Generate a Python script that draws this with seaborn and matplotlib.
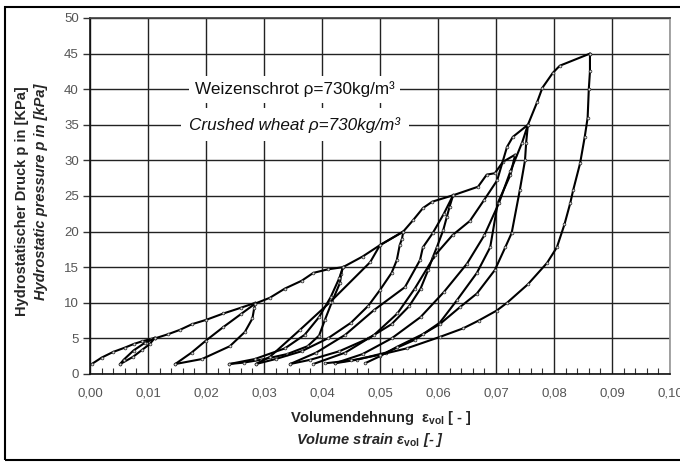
import numpy as np
import pandas as pd
import seaborn as sns
import matplotlib
matplotlib.use("Agg")
import matplotlib.pyplot as plt
from matplotlib.ticker import MultipleLocator, FuncFormatter
from matplotlib.patches import Rectangle

# ---------------- data (strain [-], pressure [kPa]) ----------------
s01_x = [0.0003, 0.002, 0.004, 0.006, 0.0075, 0.009, 0.0105, 0.0112]
s01_y = [1.4, 2.3, 3.1, 3.7, 4.2, 4.6, 4.9, 5.1]
s02_x = [0.0112, 0.0103, 0.009, 0.0074, 0.0052]
s02_y = [5.1, 4.2, 3.4, 2.4, 1.4]
s03_x = [0.0052, 0.0058, 0.0075, 0.0095, 0.0112, 0.0135, 0.0155, 0.0176, 0.020, 0.023, 0.026, 0.0285]
s03_y = [1.4, 2.0, 3.3, 4.4, 5.0, 5.6, 6.2, 7.0, 7.6, 8.5, 9.3, 10.0]
s04_x = [0.0285, 0.0283, 0.028, 0.0267, 0.0241, 0.0193, 0.0147]
s04_y = [10.0, 9.2, 7.8, 5.9, 3.9, 2.1, 1.4]
s05_x = [0.0147, 0.0175, 0.020, 0.023, 0.026, 0.0285, 0.031, 0.0336, 0.0365, 0.0385, 0.041, 0.0436]
s05_y = [1.4, 3.0, 4.7, 6.6, 8.4, 9.9, 10.7, 12.0, 13.1, 14.2, 14.7, 15.0]
s06_x = [0.0436, 0.0433, 0.0431, 0.0417, 0.0405, 0.0395, 0.0375, 0.034, 0.0295, 0.0265, 0.024]
s06_y = [15.0, 14.0, 12.8, 10.1, 7.6, 5.4, 3.9, 2.8, 2.0, 1.6, 1.4]
s07_x = [0.024, 0.0284, 0.0336, 0.037, 0.0395, 0.0415, 0.043, 0.0436, 0.047, 0.050, 0.054]
s07_y = [1.4, 2.1, 3.6, 5.5, 8.0, 10.8, 13.5, 15.0, 16.5, 18.1, 20.0]
s08_x = [0.054, 0.0538, 0.0534, 0.0529, 0.052, 0.050, 0.048, 0.045, 0.041, 0.0365, 0.032, 0.0286]
s08_y = [20.0, 19.0, 18.1, 16.0, 14.2, 11.8, 9.6, 7.2, 5.0, 3.2, 2.1, 1.4]
s09_x = [0.0286, 0.031, 0.0362, 0.0414, 0.0483, 0.050, 0.054, 0.0557, 0.0574, 0.059, 0.0626]
s09_y = [1.4, 2.4, 6.2, 10.1, 15.7, 18.1, 20.0, 21.6, 23.3, 24.2, 25.1]
s10_x = [0.0626, 0.062, 0.0615, 0.0609, 0.0598, 0.0591, 0.0583, 0.057, 0.055, 0.052, 0.048, 0.043, 0.038, 0.0345]
s10_y = [25.1, 23.5, 22.0, 20.2, 17.8, 16.4, 14.6, 12.0, 9.5, 7.0, 5.0, 3.2, 2.0, 1.4]
s11_x = [0.0345, 0.039, 0.044, 0.049, 0.0543, 0.0569, 0.0574, 0.0591, 0.061, 0.0626, 0.0669, 0.0684, 0.0698, 0.0712, 0.0733]
s11_y = [1.4, 3.0, 5.5, 9.0, 12.2, 16.0, 17.8, 19.8, 22.5, 25.1, 26.3, 28.0, 28.2, 29.8, 30.8]
s12_x = [0.0733, 0.0725, 0.0703, 0.069, 0.0667, 0.0633, 0.0603, 0.056, 0.051, 0.046, 0.0422]
s12_y = [30.8, 28.0, 24.0, 17.8, 14.2, 10.4, 7.2, 4.8, 3.0, 2.0, 1.5]
s13_x = [0.0385, 0.044, 0.049, 0.053, 0.056, 0.0595, 0.0625, 0.0655, 0.068, 0.0702, 0.0719, 0.0729, 0.0755]
s13_y = [1.4, 3.0, 5.5, 8.5, 12.0, 16.7, 19.5, 21.5, 24.5, 27.2, 31.9, 33.3, 35.0]
s14_x = [0.0755, 0.0752, 0.075, 0.0741, 0.0727, 0.0716, 0.0698, 0.0667, 0.0638, 0.0603, 0.0574, 0.0529, 0.050, 0.0474]
s14_y = [35.0, 32.5, 30.0, 25.8, 19.8, 17.8, 14.6, 11.3, 9.4, 7.0, 5.6, 3.8, 2.5, 1.5]
s15_x = [0.0422, 0.047, 0.052, 0.057, 0.061, 0.065, 0.068, 0.0705, 0.0725, 0.0745, 0.0755, 0.0771, 0.078, 0.0798, 0.081, 0.0862]
s15_y = [1.5, 2.8, 5.0, 8.0, 11.5, 15.5, 19.5, 24.0, 28.5, 32.5, 35.0, 38.2, 40.2, 42.3, 43.3, 45.0]
s16_x = [0.0862, 0.0862, 0.086, 0.0858, 0.0853, 0.0845, 0.0833, 0.0828, 0.0818, 0.0805, 0.0788,
         0.0755, 0.0719, 0.0701, 0.0670, 0.0643, 0.0603, 0.0546, 0.050, 0.045, 0.0405]
s16_y = [45.0, 42.5, 40.0, 36.0, 33.3, 29.6, 25.8, 24.0, 21.0, 17.8, 15.6,
         12.6, 10.0, 8.9, 7.5, 6.4, 5.2, 3.6, 2.7, 1.9, 1.5]

segments = {
    "s01": (s01_x, s01_y), "s02": (s02_x, s02_y), "s03": (s03_x, s03_y),
    "s04": (s04_x, s04_y), "s05": (s05_x, s05_y), "s06": (s06_x, s06_y),
    "s07": (s07_x, s07_y), "s08": (s08_x, s08_y), "s09": (s09_x, s09_y),
    "s10": (s10_x, s10_y), "s11": (s11_x, s11_y), "s12": (s12_x, s12_y),
    "s13": (s13_x, s13_y), "s14": (s14_x, s14_y), "s15": (s15_x, s15_y),
    "s16": (s16_x, s16_y),
}
frames = []
for name, (xs, ys) in segments.items():
    frames.append(pd.DataFrame({"strain": xs, "pressure": ys, "segment": name}))
df = pd.concat(frames, ignore_index=True)

x_ticks = [0.00, 0.01, 0.02, 0.03, 0.04, 0.05, 0.06, 0.07, 0.08, 0.09, 0.10]
y_ticks = [0, 5, 10, 15, 20, 25, 30, 35, 40, 45, 50]

# ---------------- style ----------------
sns.set_theme(style="white")
plt.rcParams["font.family"] = ["Liberation Sans", "DejaVu Sans"]
plt.rcParams["mathtext.fontset"] = "custom"
plt.rcParams["mathtext.rm"] = "Liberation Sans"
plt.rcParams["mathtext.it"] = "Liberation Sans:italic"
plt.rcParams["mathtext.bf"] = "Liberation Sans:bold"

fig = plt.figure(figsize=(6.8, 4.63), dpi=100)
ax = fig.add_axes([90 / 680, 89 / 463, 580 / 680, 356 / 463])

sns.lineplot(data=df, x="strain", y="pressure", units="segment", estimator=None,
             sort=False, color="black", lw=1.5, marker="o", markersize=2.0,
             markerfacecolor="#dddddd", markeredgecolor="#222222",
             markeredgewidth=0.5, legend=False, ax=ax, zorder=3)

ax.set_xlim(0, 0.10)
ax.set_ylim(0, 50)
ax.set_xticks(x_ticks)
ax.set_yticks(y_ticks)
ax.xaxis.set_major_formatter(FuncFormatter(lambda v, p: f"{v:.2f}".replace(".", ",")))
ax.xaxis.set_minor_locator(MultipleLocator(0.002))
ax.set_axisbelow(True)
ax.grid(True, which="major", color="#222222", lw=1.0)
ax.set_xlabel("")
ax.set_ylabel("")

ax.tick_params(axis="x", which="major", bottom=True, length=0, pad=10,
               labelsize=9.5, labelcolor="#555555")
ax.tick_params(axis="x", which="minor", bottom=True, direction="in", length=4,
               width=0.8, color="#333333")
ax.tick_params(axis="y", which="major", left=True, direction="out", length=5,
               width=1, color="#333333", pad=3, labelsize=9.5, labelcolor="#555555")

for side in ["left", "bottom"]:
    ax.spines[side].set_color("#111111")
    ax.spines[side].set_linewidth(1.2)
ax.spines["top"].set_color("#444444")
ax.spines["right"].set_color("#999999")

ax.text(0.0353, 40, "Weizenschrot ρ=730kg/m³", ha="center", va="center",
        fontsize=12.3, color="#111111",
        bbox=dict(facecolor="white", edgecolor="none", pad=4), zorder=4)
ax.text(0.0353, 35, "Crushed wheat ρ=730kg/m³", ha="center", va="center",
        fontsize=12.3, style="italic", color="#111111",
        bbox=dict(facecolor="white", edgecolor="none", pad=6), zorder=4)

fig.text(381 / 680, 1 - 418 / 463, r"Volumendehnung  ε$_{\mathbf{vol}}$ [ - ]",
         ha="center", va="center", fontsize=10.5, fontweight="bold")
fig.text(370 / 680, 1 - 440 / 463, r"Volume strain ε$_{\mathbf{vol}}$ [- ]",
         ha="center", va="center", fontsize=10.5, fontweight="bold", style="italic")
fig.text(22 / 680, 1 - 201 / 463, "Hydrostatischer Druck p in [KPa]", rotation=90,
         ha="center", va="center", fontsize=10.5, fontweight="bold")
fig.text(41 / 680, 1 - 192 / 463, "Hydrostatic pressure p in [kPa]", rotation=90,
         ha="center", va="center", fontsize=10.5, fontweight="bold", style="italic")

fig.patches.append(Rectangle((5 / 680, 3 / 463), 1.2, 453 / 463, fill=False,
                             edgecolor="black", lw=1.5, transform=fig.transFigure))

fig.savefig("out.png", dpi=100)
